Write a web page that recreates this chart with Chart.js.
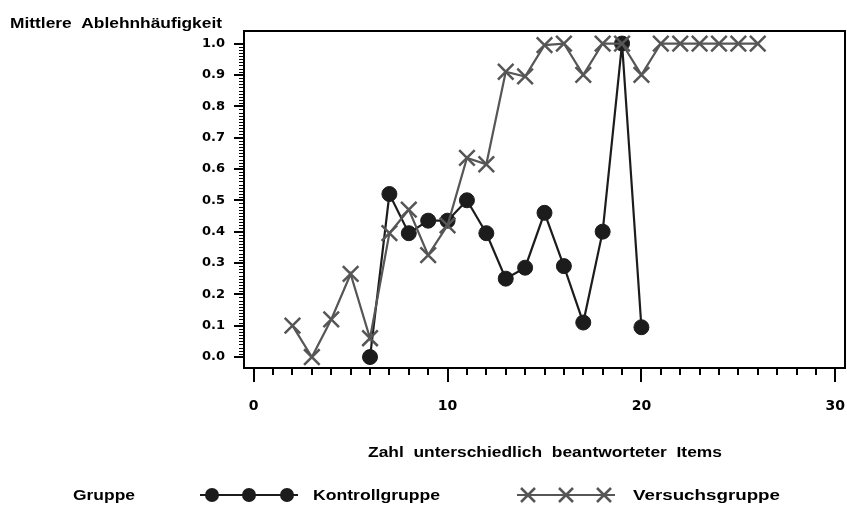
<!DOCTYPE html>
<html>
<head>
<meta charset="utf-8">
<script src="https://cdn.jsdelivr.net/npm/chart.js@4/dist/chart.umd.min.js"></script>
<style>
  html, body { margin: 0; padding: 0; background: #ffffff; }
</style>
</head>
<body>
<canvas id="ablehnChart" width="847" height="509"></canvas>
<script>
// mean rejection rate per number of differently answered items
const kontrollItems = [6, 7, 8, 9, 10, 11, 12, 13, 14, 15, 16, 17, 18, 19, 20];
const kontrollMean = [0.00, 0.52, 0.395, 0.435, 0.435, 0.50, 0.395, 0.25, 0.285, 0.46, 0.29, 0.11, 0.40, 1.00, 0.095];

const versuchItems = [2, 3, 4, 5, 6, 7, 8, 9, 10, 11, 12, 13, 14, 15, 16, 17, 18, 19, 20, 21, 22, 23, 24, 25, 26];
const versuchMean = [0.10, 0.00, 0.12, 0.265, 0.06, 0.395, 0.47, 0.325, 0.42, 0.635, 0.615, 0.91, 0.895, 0.995, 1.00,
  0.90, 1.00, 1.00, 0.90, 1.00, 1.00, 1.00, 1.00, 1.00, 1.00];

const xTicks = [0, 10, 20, 30];
const yTicks = [0, 0.1, 0.2, 0.3, 0.4, 0.5, 0.6, 0.7, 0.8, 0.9, 1.0];

const yTitle = 'Mittlere  Ablehnhäufigkeit';
const xTitle = 'Zahl  unterschiedlich  beantworteter  Items';
const legendTitle = 'Gruppe';
const kontrollLabel = 'Kontrollgruppe';
const versuchLabel = 'Versuchsgruppe';

const KONTROLL_COLOR = '#1c1c1c';
const VERSUCH_COLOR = '#565656';
const TEXT_FONT = '"Liberation Sans", Arial, sans-serif';
const TICK_FONT = '"DejaVu Sans", sans-serif';

function toPoints(xs, ys) {
  return xs.map((x, i) => ({ x: x, y: ys[i] }));
}

// bold text squeezed or stretched to a given width
function fitText(ctx, text, x, y, width, size) {
  ctx.font = 'bold ' + size + 'px ' + TEXT_FONT;
  const w = ctx.measureText(text).width;
  ctx.save();
  ctx.translate(x, y);
  ctx.scale(width / w, 1);
  ctx.textAlign = 'left';
  ctx.textBaseline = 'alphabetic';
  ctx.fillStyle = '#000';
  ctx.fillText(text, 0, 0);
  ctx.restore();
}

function drawCross(ctx, x, y, r) {
  ctx.moveTo(x - r, y - r); ctx.lineTo(x + r, y + r);
  ctx.moveTo(x - r, y + r); ctx.lineTo(x + r, y - r);
}

// box around the plot, tick marks, x labels, titles and the legend row
const axisFrame = {
  id: 'axisFrame',
  beforeDatasetsDraw(chart) {
    const { ctx, chartArea: a, scales: { x, y } } = chart;
    ctx.save();
    ctx.strokeStyle = '#000';
    ctx.lineWidth = 2;
    ctx.strokeRect(a.left, a.top, a.right - a.left, a.bottom - a.top);

    ctx.beginPath();
    for (let v = 0; v <= 30; v++) {
      const px = Math.round(x.getPixelForValue(v));
      ctx.moveTo(px, a.bottom);
      ctx.lineTo(px, a.bottom + (v % 10 === 0 ? 14 : 7));
    }
    for (let i = 0; i <= 10; i++) {
      const py = Math.round(y.getPixelForValue(i / 10));
      ctx.moveTo(a.left, py);
      ctx.lineTo(a.left - 10, py);
    }
    ctx.stroke();

    ctx.lineWidth = 1;
    ctx.beginPath();
    for (let i = 0; i <= 100; i++) {
      if (i % 10 === 0) continue;
      const py = Math.round(y.getPixelForValue(i / 100)) + 0.5;
      ctx.moveTo(a.left, py);
      ctx.lineTo(a.left - 5, py);
    }
    ctx.stroke();

    // x tick labels
    ctx.fillStyle = '#000';
    ctx.font = 'bold 14px ' + TICK_FONT;
    ctx.textAlign = 'center';
    ctx.textBaseline = 'alphabetic';
    x.ticks.forEach(t => {
      ctx.fillText(String(t.value), x.getPixelForValue(t.value), 410);
    });
    ctx.restore();
  },
  afterDraw(chart) {
    const ctx = chart.ctx;
    fitText(ctx, yTitle, 10, 28, 212, 14);
    fitText(ctx, xTitle, 368, 457, 354, 15);
    fitText(ctx, legendTitle, 73, 500, 62, 15);
    fitText(ctx, kontrollLabel, 313, 500, 127, 15);
    fitText(ctx, versuchLabel, 633, 500, 147, 15);

    const ly = 495;
    ctx.save();
    ctx.lineWidth = 2;
    ctx.strokeStyle = KONTROLL_COLOR;
    ctx.fillStyle = KONTROLL_COLOR;
    ctx.beginPath();
    ctx.moveTo(200, ly); ctx.lineTo(298, ly);
    ctx.stroke();
    [212, 249, 287].forEach(cx => {
      ctx.beginPath();
      ctx.arc(cx, ly, 7, 0, Math.PI * 2);
      ctx.fill();
    });

    ctx.strokeStyle = VERSUCH_COLOR;
    ctx.beginPath();
    ctx.moveTo(517, ly); ctx.lineTo(615, ly);
    ctx.stroke();
    ctx.lineWidth = 2.5;
    ctx.beginPath();
    [528, 566, 604].forEach(cx => drawCross(ctx, cx, ly, 7));
    ctx.stroke();
    ctx.restore();
  }
};

const ctx = document.getElementById('ablehnChart').getContext('2d');

const chart = new Chart(ctx, {
  type: 'line',
  data: {
    datasets: [
      {
        label: versuchLabel,
        data: toPoints(versuchItems, versuchMean),
        borderColor: VERSUCH_COLOR,
        borderWidth: 2.2,
        pointStyle: 'crossRot',
        pointRadius: 11,
        pointBorderWidth: 2.5,
        pointBorderColor: VERSUCH_COLOR,
        tension: 0,
        order: 0,
      },
      {
        label: kontrollLabel,
        data: toPoints(kontrollItems, kontrollMean),
        borderColor: KONTROLL_COLOR,
        backgroundColor: KONTROLL_COLOR,
        borderWidth: 2.2,
        pointStyle: 'circle',
        pointRadius: 7.5,
        pointBorderWidth: 1,
        pointBackgroundColor: KONTROLL_COLOR,
        tension: 0,
        order: 1,
      },
    ]
  },
  options: {
    responsive: false,
    animation: false,
    layout: {
      autoPadding: false,
      padding: { top: 31, right: 2, left: 0, bottom: 0 },
    },
    plugins: {
      legend: { display: false },
      tooltip: { enabled: false },
    },
    scales: {
      x: {
        type: 'linear',
        min: -0.5,
        max: 30.5,
        grid: { display: false, drawTicks: false },
        border: { display: false },
        afterBuildTicks: s => { s.ticks = xTicks.map(v => ({ value: v })); },
        afterFit: s => { s.height = 141; },
        ticks: { display: false },
      },
      y: {
        min: -0.035,
        max: 1.04,
        grid: { display: false, drawTicks: false },
        border: { display: false },
        afterBuildTicks: s => { s.ticks = yTicks.map(v => ({ value: v })); },
        afterFit: s => { s.width = 244; },
        ticks: {
          color: '#000',
          padding: 19,
          callback: v => v.toFixed(1),
          font: { family: TICK_FONT, size: 13, weight: 'bold' },
        },
      },
    }
  },
  plugins: [axisFrame],
});
</script>
</body>
</html>
